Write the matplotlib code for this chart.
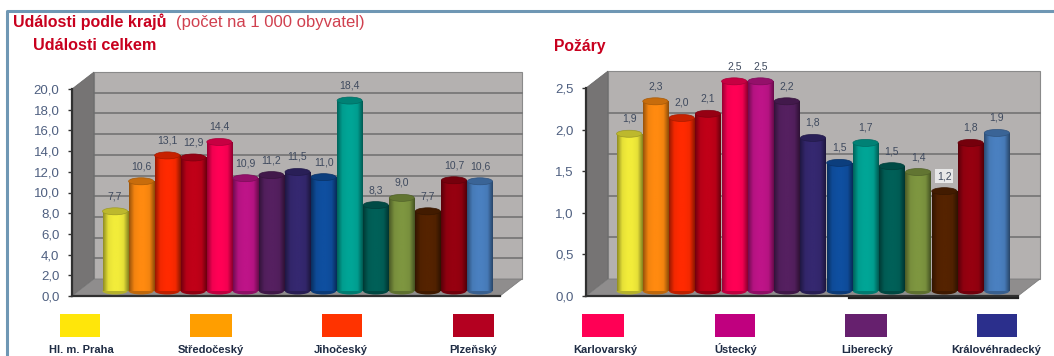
import numpy as np
import matplotlib
matplotlib.use("Agg")
import matplotlib.pyplot as plt
from matplotlib.colors import LinearSegmentedColormap, to_rgb
from matplotlib.patches import Ellipse, Polygon, Rectangle
from matplotlib.transforms import Affine2D

plt.rcParams['font.family'] = ['Liberation Sans', 'DejaVu Sans']

W, H = 1054, 356

# ---- data ----
regions_shown = ["Hl. m. Praha", "Středočeský", "Jihočeský", "Plzeňský",
                 "Karlovarský", "Ústecký", "Liberecký", "Královéhradecký"]
legend_colors = ["#FFE60A", "#FF9E00", "#FF3300", "#B40020",
                 "#FF0055", "#C0007F", "#66206E", "#2B2F8C"]
bar_colors = ["#F2EC3A", "#FF8A10", "#FF2A00", "#C00018", "#FF0055",
              "#BE1488", "#552060", "#352870", "#0F4FA0", "#00A596",
              "#006058", "#7E9640", "#552300", "#960010", "#4A80C0"]
total_values = [7.7, 10.6, 13.1, 12.9, 14.4, 10.9, 11.2, 11.5, 11.0, 18.4,
                8.3, 9.0, 7.7, 10.7, 10.6]
total_labels = ["7,7", "10,6", "13,1", "12,9", "14,4", "10,9", "11,2", "11,5",
                "11,0", "18,4", "8,3", "9,0", "7,7", "10,7", "10,6"]
total_ticks = [0, 2, 4, 6, 8, 10, 12, 14, 16, 18, 20]
total_ticklabels = ["0,0", "2,0", "4,0", "6,0", "8,0", "10,0", "12,0", "14,0",
                    "16,0", "18,0", "20,0"]
fire_values = [1.89, 2.28, 2.08, 2.13, 2.52, 2.52, 2.28, 1.84, 1.54, 1.78,
               1.50, 1.43, 1.20, 1.78, 1.90]
fire_labels = ["1,9", "2,3", "2,0", "2,1", "2,5", "2,5", "2,2", "1,8", "1,5",
               "1,7", "1,5", "1,4", "1,2", "1,8", "1,9"]
fire_ticks = [0, 0.5, 1.0, 1.5, 2.0, 2.5]
fire_ticklabels = ["0,0", "0,5", "1,0", "1,5", "2,0", "2,5"]

RED = "#C8001E"
TICK = "#4E5F80"
fig = plt.figure(figsize=(W / 100, H / 100), dpi=100, facecolor="white")
# pixel coordinates with the origin at the top left of the figure
px = Affine2D().scale(1 / W, -1 / H).translate(0, 1) + fig.transFigure


def add_axes_px(x0, x1, ytop, ybot, **kw):
    return fig.add_axes([x0 / W, 1 - ybot / H, (x1 - x0) / W, (ybot - ytop) / H], **kw)


def shade_cmap(col):
    c = np.array(to_rgb(col))
    return LinearSegmentedColormap.from_list(
        "s", [c * 0.6, c * 0.95, c, c, c * 0.95, c * 0.55])


def chart(x0, x1, y0, ytop, dx, dy, bar_x0, bar_x1, base, ymax,
          values, labels, ticks, ticklabels, fs_val, boxed=None):
    ax = add_axes_px(x0, x1, ytop, y0, zorder=1)
    ax.set_xlim(0, 1)
    ax.set_ylim(0, ymax)
    ax.patch.set_visible(False)
    for s in ax.spines.values():
        s.set_visible(False)
    ax.set_xticks([])
    ax.set_yticks(ticks, ticklabels, color=TICK, fontsize=9.5)
    ax.tick_params(axis="y", length=3, width=1, color="#333333", pad=6)

    unit = (y0 - ytop) / ymax
    yp = lambda v: y0 - v * unit
    # walls and floor
    fig.add_artist(Polygon([(x0 + dx, ytop - dy), (x1 + dx, ytop - dy),
                            (x1 + dx, y0 - dy), (x0 + dx, y0 - dy)], closed=True,
                           transform=px, fc="#B4B1B0", ec="#8A8A8A", lw=0.8, zorder=0))
    fig.add_artist(Polygon([(x0, ytop), (x0 + dx, ytop - dy), (x0 + dx, y0 - dy), (x0, y0)],
                           closed=True, transform=px, fc="#767474", ec="#666666", lw=0.5, zorder=0))
    fig.add_artist(Polygon([(x0, y0), (x0 + dx, y0 - dy), (x1 + dx, y0 - dy), (x1, y0)],
                           closed=True, transform=px, fc="#8F8D8D", ec="#777777", lw=0.5, zorder=0))
    for t in ticks[1:-1]:
        fig.add_artist(plt.Line2D([x0 + dx, x1 + dx],
                                  [yp(t) - dy, yp(t) - dy], transform=px,
                                  color="#6E6E6E", lw=1.1, zorder=0.5))
    fig.add_artist(plt.Line2D([x0, x0], [ytop, y0], transform=px, color="#303030", lw=1.6, zorder=0.6))
    fig.add_artist(plt.Line2D([x0, x1], [y0, y0], transform=px, color="#303030", lw=1.6, zorder=0.6))

    # bars sit halfway into the floor
    bx = add_axes_px(bar_x0, bar_x1, base - ymax * unit, base, zorder=2)
    bx.set_xlim(-0.5, len(values) - 0.5)
    bx.set_ylim(0, ymax)
    bx.axis("off")
    w = 0.96
    ell = 7 / unit
    xs = np.arange(len(values))
    rects = bx.bar(xs, values, width=w, color=bar_colors, zorder=2)
    grad = np.linspace(0, 1, 64)[None, :]
    for i, (r, v, col, lab) in enumerate(zip(rects, values, bar_colors, labels)):
        im = bx.imshow(grad, extent=(i - w / 2, i + w / 2, 0, v), aspect="auto",
                       cmap=shade_cmap(col), zorder=2.1 + i * 0.01)
        im.set_clip_path(r)
        c = np.array(to_rgb(col))
        bx.add_patch(Ellipse((i, 0), w, ell, fc=c * 0.75, ec="none", zorder=2.05 + i * 0.01,
                             clip_on=False))
        bx.add_patch(Ellipse((i, v), w, ell, fc=c * 0.78, ec=c * 0.65, lw=0.5,
                             zorder=2.2 + i * 0.01, clip_on=False))
        bx.annotate(lab, (i, v), xytext=(0, 10), textcoords="offset pixels",
                    ha="center", va="bottom", fontsize=fs_val, color="#3F4A5E", zorder=5,
                    annotation_clip=False,
                    bbox=dict(fc="#E8E8E8", ec="none", pad=1.2) if i == boxed else None)
    bx.set_xlim(-0.5, len(values) - 0.5)
    bx.set_ylim(0, ymax)
    return ax


chart(72, 500, 296, 89, 22, 17, 102, 493, 291, 20,
      total_values, total_labels, total_ticks, total_ticklabels, 7.5)
chart(586, 1018, 296, 88, 22, 17, 616, 1010, 291, 2.5,
      fire_values, fire_labels, fire_ticks, fire_ticklabels, 7.5, boxed=12)
# darker edge under the right part of the second chart
fig.add_artist(plt.Line2D([849, 1018], [298, 298], transform=px, color="#222222", lw=1.6, zorder=3))

# outer frame
fig.add_artist(plt.Line2D([7, 7, W], [H, 11, 11], transform=px, color="#6F97B4", lw=2.2, zorder=3))

# titles
fig.text(13 / W, 1 - 22 / H, "Události podle krajů", color=RED, fontsize=11.5,
         fontweight="bold", va="center", ha="left")
fig.text(176 / W, 1 - 22 / H, "(počet na 1 000 obyvatel)", color="#D0404F", fontsize=12,
         va="center", ha="left")
fig.text(33 / W, 1 - 46 / H, "Události celkem", color=RED, fontsize=11.7, fontweight="bold",
         va="center", ha="left")
fig.text(554 / W, 1 - 46 / H, "Požáry", color=RED, fontsize=11.3, fontweight="bold",
         va="center", ha="left")

# legend (only the first eight entries are in the picture)
lx = [(60, 100), (190, 232), (322, 362), (453, 494), (582, 624), (715, 755), (845, 887), (977, 1017)]
tx = [81, 211, 341, 473, 605, 736, 867, 996]
for (a, b), c, n, x in zip(lx, legend_colors, regions_shown, tx):
    fig.add_artist(Rectangle((a, 314), b - a, 23, transform=px, fc=c, ec="none", zorder=3))
    fig.text(x / W, 1 - 353 / H, n, fontsize=8, fontweight="bold", color="#1F2C44",
             ha="center", va="baseline")

fig.savefig("out.png", dpi=100, facecolor="white")
